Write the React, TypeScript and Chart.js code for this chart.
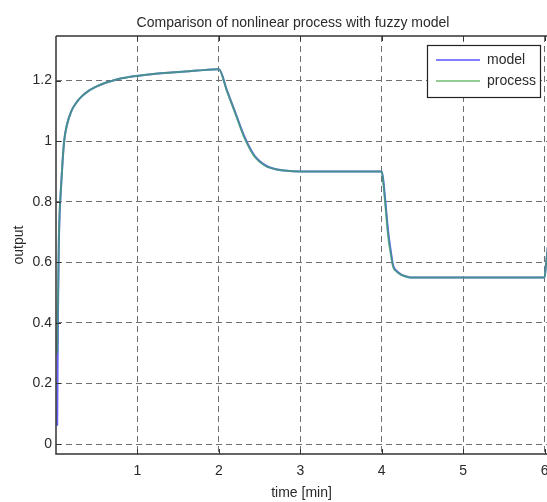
import React, { useEffect, useRef } from "react";
import { Chart, registerables } from "chart.js";

Chart.register(...registerables);

const TITLE = "Comparison of nonlinear process with fuzzy model";
const X_LABEL = "time [min]";
const Y_LABEL = "output";
const SERIES_NAMES = ["model", "process"];
const X_TICKS = [1, 2, 3, 4, 5, 6];
const Y_TICKS = [0, 0.2, 0.4, 0.6, 0.8, 1, 1.2];

const TIME = [
  0.015, 0.025, 0.035, 0.045, 0.06, 0.08, 0.1, 0.14, 0.19, 0.25, 0.31, 0.4, 0.5, 0.6, 0.7,
  0.82, 0.98, 1.17, 1.33, 1.55, 1.74, 2.0, 2.1, 2.2, 2.3, 2.36, 2.43, 2.5, 2.59, 2.7,
  2.8, 3.0, 3.5, 4.0, 4.02, 4.04, 4.08, 4.11, 4.14, 4.18, 4.24, 4.3, 4.35, 4.5, 5.0,
  5.5, 6.0, 6.02, 6.04,
];

const MODEL = [
  0.06, 0.45, 0.66, 0.76, 0.84, 0.93, 1.0, 1.06, 1.1, 1.127, 1.146, 1.166, 1.181, 1.192, 1.2,
  1.208, 1.215, 1.221, 1.225, 1.229, 1.233, 1.237, 1.167, 1.096, 1.024, 0.988, 0.955, 0.934, 0.917, 0.907,
  0.903, 0.9, 0.9, 0.9, 0.87, 0.815, 0.7, 0.64, 0.59, 0.572, 0.559, 0.553, 0.55, 0.55, 0.55,
  0.55, 0.55, 0.6, 0.65,
];

const PROCESS = [
  0.3, 0.5, 0.68, 0.77, 0.84, 0.93, 1.0, 1.06, 1.1, 1.127, 1.146, 1.166, 1.181, 1.192, 1.2,
  1.208, 1.215, 1.221, 1.225, 1.229, 1.233, 1.237, 1.165, 1.093, 1.02, 0.985, 0.952, 0.932, 0.916, 0.907,
  0.903, 0.9, 0.9, 0.9, 0.86, 0.805, 0.684, 0.63, 0.585, 0.57, 0.558, 0.553, 0.55, 0.55, 0.55,
  0.55, 0.55, 0.6, 0.65,
];

const MODEL_COLOR = "rgb(100,100,255)";
const PROCESS_COLOR = "rgba(60,160,100,0.72)";
const LEGEND_COLORS = ["#8080ff", "#94cc94"];
const FONT = "'Liberation Sans', Arial, Helvetica, sans-serif";
const TEXT_COLOR = "#2a2a2a";

const decorPlugin = {
  id: "decor",
  afterDatasetsDraw(chart: any) {
    const { ctx, chartArea, scales } = chart;
    const { left, right, top, bottom } = chartArea;
    ctx.save();
    ctx.strokeStyle = "#333";
    ctx.lineWidth = 1.5;
    ctx.beginPath();
    ctx.moveTo(left, top);
    ctx.lineTo(right, top);
    ctx.moveTo(left, top);
    ctx.lineTo(left, bottom);
    ctx.lineTo(right, bottom);
    ctx.stroke();
    ctx.lineWidth = 1;
    ctx.beginPath();
    for (const t of X_TICKS) {
      const x = Math.round(scales.x.getPixelForValue(t)) + 0.5;
      ctx.moveTo(x, bottom);
      ctx.lineTo(x, bottom - 5);
      ctx.moveTo(x, top);
      ctx.lineTo(x, top + 5);
    }
    for (const v of Y_TICKS) {
      const y = Math.round(scales.y.getPixelForValue(v)) + 0.5;
      ctx.moveTo(left, y);
      ctx.lineTo(left + 5, y);
    }
    ctx.stroke();
    ctx.restore();
  },
  afterDraw(chart: any) {
    const { ctx, chartArea } = chart;
    ctx.save();
    ctx.fillStyle = TEXT_COLOR;
    ctx.font = `14px ${FONT}`;
    ctx.textAlign = "center";
    ctx.textBaseline = "middle";
    ctx.fillText(TITLE, chartArea.left + 237, chartArea.top - 13);
    const bx = chartArea.right - 120;
    const by = chartArea.top + 9;
    const bw = 113;
    const bh = 52;
    ctx.fillStyle = "#fff";
    ctx.fillRect(bx, by, bw, bh);
    ctx.strokeStyle = "#222";
    ctx.lineWidth = 1.2;
    ctx.strokeRect(bx + 0.5, by + 0.5, bw, bh);
    chart.data.datasets.forEach((ds: any, i: number) => {
      const y = by + 15 + i * 21;
      ctx.strokeStyle = LEGEND_COLORS[i];
      ctx.lineWidth = 2;
      ctx.beginPath();
      ctx.moveTo(bx + 9, y);
      ctx.lineTo(bx + 53, y);
      ctx.stroke();
      ctx.fillStyle = TEXT_COLOR;
      ctx.font = `14px ${FONT}`;
      ctx.textAlign = "left";
      ctx.textBaseline = "middle";
      ctx.fillText(ds.label, bx + 60, y);
    });
    ctx.restore();
  },
};

export default function App() {
  const ref = useRef<HTMLCanvasElement | null>(null);

  useEffect(() => {
    if (!ref.current) return;
    const modelPts = TIME.map((t, i) => ({ x: t, y: MODEL[i] }));
    const processPts = TIME.map((t, i) => ({ x: t, y: PROCESS[i] }));
    const chart = new Chart(ref.current, {
      type: "line",
      data: {
        datasets: [
          {
            label: SERIES_NAMES[0],
            data: modelPts,
            borderColor: MODEL_COLOR,
            borderWidth: 2,
            pointRadius: 0,
            cubicInterpolationMode: "monotone",
            order: 2,
          },
          {
            label: SERIES_NAMES[1],
            data: processPts,
            borderColor: PROCESS_COLOR,
            borderWidth: 2,
            pointRadius: 0,
            cubicInterpolationMode: "monotone",
            order: 1,
          },
        ],
      },
      options: {
        animation: false,
        responsive: false,
        layout: { padding: { top: 36, right: 0, left: 0, bottom: 0 } },
        plugins: {
          legend: { display: false },
          title: { display: false },
          tooltip: { enabled: false },
        },
        scales: {
          x: {
            type: "linear",
            min: 0,
            max: 6.03,
            afterFit: (s: any) => {
              s.height = 48;
              s.paddingRight = 0;
              s.paddingLeft = 0;
            },
            afterBuildTicks: (s: any) => {
              s.ticks = X_TICKS.map((v) => ({ value: v }));
            },
            grid: {
              color: "#707070",
              lineWidth: 1,
              drawTicks: false,
            },
            border: { display: false, dash: [6, 4] },
            ticks: {
              color: TEXT_COLOR,
              font: { family: FONT, size: 14 },
              padding: 9,
              maxRotation: 0,
              autoSkip: false,
              callback: (v: any) => String(v),
            },
            title: {
              display: true,
              text: X_LABEL,
              color: TEXT_COLOR,
              font: { family: FONT, size: 14 },
              padding: { top: 0, bottom: 0 },
            },
          },
          y: {
            type: "linear",
            min: -0.033,
            max: 1.347,
            afterFit: (s: any) => {
              s.width = 56;
              s.paddingTop = 0;
              s.paddingBottom = 0;
            },
            afterBuildTicks: (s: any) => {
              s.ticks = Y_TICKS.map((v) => ({ value: v }));
            },
            grid: {
              color: "#707070",
              lineWidth: 1,
              drawTicks: false,
            },
            border: { display: false, dash: [6, 4] },
            ticks: {
              color: TEXT_COLOR,
              font: { family: FONT, size: 14 },
              padding: 4,
              callback: (v: any) => String(Math.round(v * 10) / 10),
            },
            title: {
              display: true,
              text: Y_LABEL,
              color: TEXT_COLOR,
              font: { family: FONT, size: 14 },
              padding: { top: 11, bottom: 0 },
            },
          },
        },
      },
      plugins: [decorPlugin],
    });
    return () => chart.destroy();
  }, []);

  return (
    <div
      style={{
        position: "fixed",
        left: 0,
        top: 0,
        width: 547,
        height: 502,
        overflow: "hidden",
        background: "#fff",
      }}
    >
      <canvas ref={ref} width={547} height={502} style={{ display: "block" }} />
    </div>
  );
}
